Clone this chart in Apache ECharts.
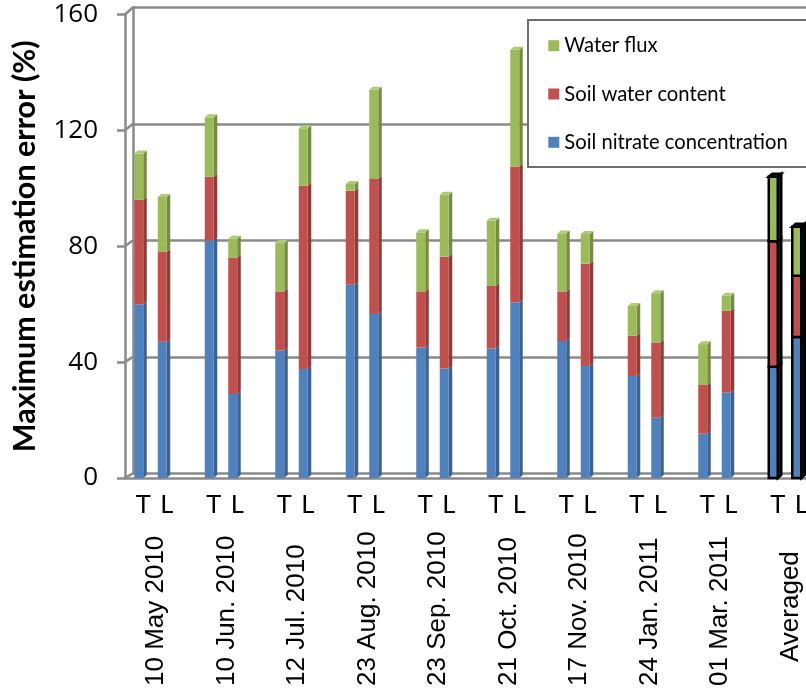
<!DOCTYPE html>
<html>
<head>
<meta charset="utf-8">
<script src="https://cdn.jsdelivr.net/npm/echarts@6/dist/echarts.min.js"></script>
<style>
  html, body { margin: 0; padding: 0; background: #fff; overflow: hidden; }
  /* the plot runs past the right edge of the page, so the canvas is wider than the window */
  #chart { width: 860px; height: 692px; }
</style>
</head>
<body>
<div id="chart"></div>
<script>
// Sampling dates (outer axis level) and the two bars drawn per date
const categories = ['10 May 2010', '10 Jun. 2010', '12 Jul. 2010', '23 Aug. 2010', '23 Sep. 2010',
                    '21 Oct. 2010', '17 Nov. 2010', '24 Jan. 2011', '01 Mar. 2011', 'Averaged'];
const slotLabels = ['T', 'L'];
const yTicks = [0, 40, 80, 120, 160];

// Error contributions (%) of the T bars
const nitrateT = [60, 82, 44, 66.7, 45, 44.7, 47.3, 35.2, 15.3, 38.4];
const waterT   = [36, 22, 20.4, 32.5, 19.4, 21.6, 17.1, 13.9, 16.8, 43.3];
const fluxT    = [16, 20.5, 16.7, 2.3, 20.4, 22.5, 20, 10.3, 14.1, 22.3];

// Error contributions (%) of the L bars
const nitrateL = [47, 29, 37.6, 56.6, 37.8, 60.6, 38.7, 20.8, 29.5, 48.7];
const waterL   = [31, 47, 63.3, 46.6, 38.6, 46.9, 35.3, 26, 28.2, 21.1];
const fluxL    = [19, 6.6, 19.8, 30.8, 21.4, 40.3, 10.2, 17, 5.2, 16.9];

const seriesNames = ['Soil nitrate concentration', 'Soil water content', 'Water flux'];
const fills  = ['#4f81bd', '#c0504d', '#9bbb59'];
const sides  = ['#3b6292', '#903b39', '#748c42'];
const tops   = ['#6d97cc', '#cf6c69', '#aecb72'];

// Layout of the pseudo-3D frame
const FRONT_LEFT = 125, BACK_LEFT = 133;
const PLOT_TOP = 14.5, PLOT_H = 463.5;
const BACK_TOP = 7.3, BACK_H = 466;
const BAR_LEFT = 117.25, BAR_W = 705;
const GRID_GREY = '#8a8a8a';

const chart = echarts.init(document.getElementById('chart'), null, { renderer: 'canvas' });

function stackSeries(stack, level, slot) {
  const data = categories.map((c, i) => {
    let base = 0;
    for (let k = 0; k < level; k++) base += stack[k][i];
    return [i, base, base + stack[level][i]];
  });
  return {
    type: 'custom',
    name: seriesNames[level],
    xAxisIndex: 0,
    yAxisIndex: 0,
    itemStyle: { color: fills[level] },
    encode: { x: 0, y: [1, 2] },
    data: data,
    z: 3,
    renderItem: function (params, api) {
      const i = api.value(0);
      const lo = api.coord([i, api.value(1)]);
      const hi = api.coord([i, api.value(2)]);
      const bw = api.size([1, 0])[0];
      const cx = lo[0] + (slot === 0 ? -bw / 6 : bw / 6);
      const fw = 9, dx = 3.5, dy = 3;
      const x0 = cx - 6.5, x1 = x0 + fw;
      const y0 = lo[1], y1 = hi[1];
      const outlined = categories[i] === 'Averaged';
      const edge = outlined ? { stroke: '#000', lineWidth: 2.5, lineJoin: 'miter' } : {};
      const children = [
        { type: 'polygon', shape: { points: [[x1, y0], [x1 + dx, y0 - dy], [x1 + dx, y1 - dy], [x1, y1]] },
          style: Object.assign({ fill: outlined ? '#1a1a1a' : sides[level] }, edge) },
        { type: 'rect', shape: { x: x0, y: y1, width: fw, height: y0 - y1 },
          style: Object.assign({ fill: fills[level] }, edge) }
      ];
      if (level === 2) {
        children.push({ type: 'polygon', shape: { points: [[x0, y1], [x0 + dx, y1 - dy], [x1 + dx, y1 - dy], [x1, y1]] },
          style: Object.assign({ fill: outlined ? '#1a1a1a' : tops[level] }, edge) });
      }
      return { type: 'group', children: children };
    }
  };
}

const stackT = [nitrateT, waterT, fluxT];
const stackL = [nitrateL, waterL, fluxL];
const series = [];
for (let lv = 0; lv < 3; lv++) {
  series.push(stackSeries(stackT, lv, 0));
  series.push(stackSeries(stackL, lv, 1));
}

const slotData = [];
categories.forEach(() => { slotLabels.forEach(s => slotData.push(s)); slotData.push(''); });

const dateFont = { fontFamily: 'Liberation Sans', fontSize: 26, color: '#000' };

const option = {
  animation: false,
  backgroundColor: '#fff',
  grid: [
    { left: BAR_LEFT, top: PLOT_TOP, width: BAR_W, height: PLOT_H },            // bars
    { left: FRONT_LEFT, top: PLOT_TOP, width: 720, height: PLOT_H },            // front frame
    { left: BACK_LEFT, top: BACK_TOP, width: 720, height: BACK_H },             // back wall
    { left: BAR_LEFT + BAR_W / 60 + 2.5, top: PLOT_TOP, width: BAR_W, height: PLOT_H } // T / L labels
  ],
  xAxis: [
    {
      gridIndex: 0, type: 'category', data: categories,
      axisLine: { show: false }, axisTick: { show: false }, splitLine: { show: false },
      axisLabel: Object.assign({
        interval: 0, rotate: 90, align: 'left', verticalAlign: 'middle', margin: 208,
        formatter: v => v === 'Averaged' ? '{avg|' + v + '}' : '{d|' + v + '}',
        rich: {
          d: Object.assign({ padding: [7, 0, 0, 0] }, dateFont),
          avg: Object.assign({ padding: [7, 0, 0, 24] }, dateFont)
        }
      }, dateFont)
    },
    {
      gridIndex: 1, type: 'value', min: 0, max: 1,
      axisLine: { show: true, onZero: false, lineStyle: { color: GRID_GREY, width: 2.5 } },
      axisTick: { show: false }, axisLabel: { show: false }, splitLine: { show: false }
    },
    { gridIndex: 2, type: 'value', min: 0, max: 1, show: false },
    {
      gridIndex: 3, type: 'category', data: slotData,
      axisLine: { show: false }, axisTick: { show: false }, splitLine: { show: false },
      axisLabel: { interval: 0, margin: 14, fontFamily: 'Lato', fontSize: 25.5, color: '#000' }
    }
  ],
  yAxis: [
    { gridIndex: 0, type: 'value', min: 0, max: 160, interval: 40, show: false },
    {
      gridIndex: 1, type: 'value', min: 0, max: 160, interval: 40,
      axisLine: { show: true, lineStyle: { color: GRID_GREY, width: 2.5 } },
      axisTick: { show: true, length: 8, lineStyle: { color: GRID_GREY, width: 2.5 } },
      splitLine: { show: false },
      axisLabel: { margin: 27, fontFamily: 'Open Sans', fontSize: 26, color: '#000' },
      name: 'Maximum estimation error (%)',
      nameLocation: 'middle', nameGap: 84,
      nameTextStyle: { fontFamily: 'Lato', fontWeight: 'bold', fontSize: 30.5, color: '#000' }
    },
    {
      gridIndex: 2, type: 'value', min: 0, max: 160, interval: 40,
      axisLine: { show: true, lineStyle: { color: GRID_GREY, width: 2.5 } },
      axisTick: { show: false }, axisLabel: { show: false },
      splitLine: { show: true, lineStyle: { color: GRID_GREY, width: 2.5 } }
    },
    { gridIndex: 3, type: 'value', min: 0, max: 160, show: false }
  ],
  legend: {
    orient: 'vertical', left: 528, top: 20,
    padding: [13.7, 60, 12.7, 20.3],
    itemGap: 24.3, itemWidth: 11, itemHeight: 11, icon: 'rect',
    selectedMode: false,
    backgroundColor: '#fff', borderColor: '#6e6e6e', borderWidth: 2,
    textStyle: { fontFamily: 'Lato', fontSize: 20.2, lineHeight: 24, color: '#000' },
    data: [
      { name: 'Water flux', itemStyle: { color: fills[2] } },
      { name: 'Soil water content', itemStyle: { color: fills[1] } },
      { name: 'Soil nitrate concentration', itemStyle: { color: fills[0] } }
    ]
  },
  series: series
};

chart.setOption(option);

// Diagonal edges joining the front axis ticks to the back wall gridlines
const edges = yTicks.map(v => {
  const yf = chart.convertToPixel({ yAxisIndex: 1 }, v);
  const yb = chart.convertToPixel({ yAxisIndex: 2 }, v);
  return {
    type: 'line', z: 1,
    shape: { x1: FRONT_LEFT, y1: yf, x2: BACK_LEFT, y2: yb },
    style: { stroke: GRID_GREY, lineWidth: 2.5 }
  };
});
chart.setOption({ graphic: edges });
</script>
</body>
</html>
